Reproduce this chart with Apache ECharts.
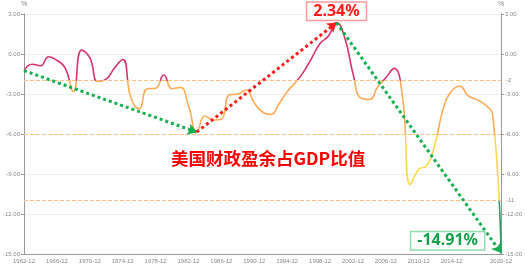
<!DOCTYPE html>
<html>
<head>
<meta charset="utf-8">
<script src="https://cdn.jsdelivr.net/npm/echarts@6/dist/echarts.min.js"></script>
<style>html,body{margin:0;padding:0;background:#fff}#c{width:525px;height:265px}</style>
</head>
<body>
<div id="c"></div>
<script>
const years = [];
for (let y = 1962; y <= 2020; y++) years.push(y + '-12');
const surplus = [-1.25,-0.77,-0.88,-0.21,-0.47,-1.04,-2.83,0.29,-0.28,-2.06,
  -1.88,-1.05,-0.41,-3.30,-4.10,-2.60,-2.57,-1.58,-2.61,-2.50,
  -3.88,-5.86,-4.65,-4.95,-4.87,-3.06,-3.01,-2.70,-3.66,-4.35,
  -4.53,-3.75,-2.83,-2.15,-1.34,-0.29,0.78,1.33,2.34,1.22,
  -1.46,-3.32,-3.41,-2.48,-1.78,-1.08,-3.10,-9.80,-8.65,-8.36,
  -6.69,-4.06,-2.78,-2.42,-3.13,-3.41,-3.77,-4.62,-14.91];
const thresholds = [-2, -6, -11];
const trendPoints = [['1962-12', -1.25], ['1983-12', -5.86], ['2000-12', 2.34], ['2020-12', -14.91]];
const trendColors = ['#11b04f', '#ff1a1a', '#11b04f'];
const title = '美国财政盈余占GDP比值';

const axisLabelStyle = {fontSize: 6, color: '#888', fontFamily: 'Liberation Sans'};
const chart = echarts.init(document.getElementById('c'));
const trendLines = [];
for (let i = 0; i < trendPoints.length - 1; i++) {
  trendLines.push([
    {coord: trendPoints[i], lineStyle: {color: trendColors[i], type: 'dotted', width: 3}, symbol: 'none'},
    {coord: trendPoints[i + 1], symbol: 'arrow', symbolSize: 9}
  ]);
}
chart.setOption({
  animation: false,
  title: {text: title, left: 166, top: 145, textStyle: {color: '#ff0000', fontSize: 17.5, fontWeight: 'bold', fontFamily: 'Noto Sans CJK SC'}},
  grid: {left: 21, right: 19, top: 14, bottom: 11, containLabel: false},
  visualMap: {
    show: false, seriesIndex: 0, dimension: 1,
    pieces: [
      {gt: -2, color: '#d6336a'},
      {gt: -6, lte: -2, color: '#ffaa55'},
      {gt: -11, lte: -6, color: '#ffd84f'},
      {lte: -11, color: '#2e9a6a'}
    ]
  },
  xAxis: {
    type: 'category', data: years, boundaryGap: false,
    axisLine: {onZero: false, lineStyle: {color: '#999'}},
    axisTick: {show: false},
    axisLabel: Object.assign({margin: 4, hideOverlap: false, interval: (i) => (i % 4 === 0 && i < 56) || i === 58}, axisLabelStyle)
  },
  yAxis: [0, 1].map(k => ({
    type: 'value', min: -15, max: 3, interval: 3, position: k ? 'right' : 'left',
    name: '%', nameGap: 6, nameTextStyle: {fontSize: 7, color: '#888', align: 'center'},
    axisLine: {show: true, lineStyle: {color: '#999'}},
    axisTick: {show: true, length: 3, lineStyle: {color: '#999'}},
    axisLabel: Object.assign({margin: 4, formatter: v => v.toFixed(2)}, axisLabelStyle),
    splitLine: {show: k === 0, lineStyle: {color: '#eee'}}
  })),
  series: [{
    type: 'line', data: surplus, smooth: true, symbol: 'none',
    lineStyle: {width: 1.6},
    markLine: {
      silent: true, symbol: ['none', 'none'],
      label: {show: false},
      data: thresholds.map(t => ({
        yAxis: t,
        lineStyle: {color: '#ffc285', type: 'dashed', width: 1},
        label: {show: t !== -6, position: 'end', formatter: String(t), fontSize: 6, color: '#888', distance: 5, fontFamily: 'Liberation Sans'}
      })).concat(trendLines)
    },
    markPoint: {
      symbol: 'circle', symbolSize: 0,
      data: [
        {coord: ['2000-12', 2.34], label: {show: true, position: 'top', distance: 3, formatter: '2.34%', color: '#ff1a1a', fontSize: 16, fontWeight: 'bold', fontFamily: 'Noto Sans', backgroundColor: '#fff', borderColor: '#ff9a9a', borderWidth: 1.5, padding: [1, 6, 0, 6]}},
        {coord: ['2020-12', -14.91], label: {show: true, position: 'left', distance: 17, offset: [0, -12], formatter: '-14.91%', color: '#12a04a', fontSize: 16, fontWeight: 'bold', fontFamily: 'Noto Sans', backgroundColor: '#fff', borderColor: '#8fdcae', borderWidth: 1.5, padding: [1, 6, 0, 6]}}
      ]
    }
  }]
});
</script>
</body>
</html>
